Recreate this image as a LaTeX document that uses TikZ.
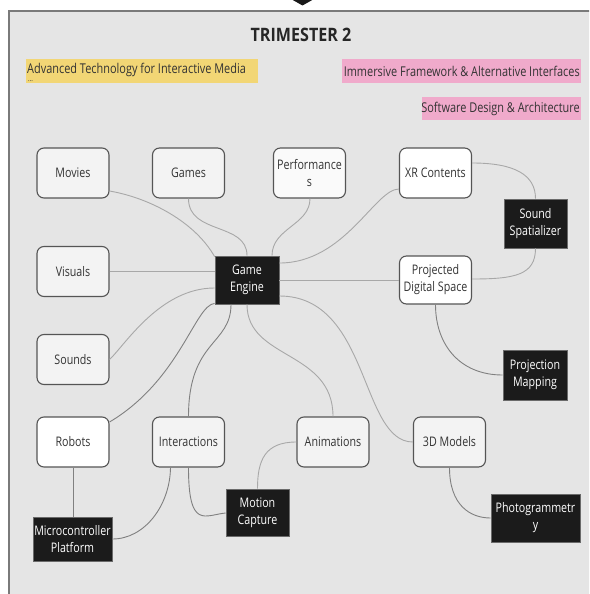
\documentclass[tikz,border=0pt]{standalone}
\usepackage{fontspec}
\setmainfont{Open Sans}[FakeStretch=0.81]
\newfontfamily\titlefont{Open Sans}[FakeStretch=0.87]
\usetikzlibrary{calc}
\definecolor{framebg}{HTML}{E5E5E5}
\definecolor{framec}{HTML}{7A7A7A}
\definecolor{boxline}{HTML}{555555}
\definecolor{wfill}{HTML}{F3F3F3}
\definecolor{bfill}{HTML}{1B1B1B}
\definecolor{bline}{HTML}{6A6A6A}
\definecolor{connc}{HTML}{A8A8A8}
\definecolor{connd}{HTML}{808080}
\definecolor{txt}{HTML}{333333}
\definecolor{yel}{HTML}{F2D675}
\definecolor{pnk}{HTML}{F0AACB}
\begin{document}
\begin{tikzpicture}[x=1pt,y=-1pt,
  wbox/.style={draw=boxline, line width=1.1pt, rounded corners=7pt, fill=wfill,
    minimum width=72pt, minimum height=50pt, inner sep=0pt, align=center,
    font=\fontsize{13.2}{17}\selectfont, text=txt},
  bbox/.style={draw=bline, line width=0.8pt, fill=bfill, inner sep=0pt, align=center,
    font=\fontsize{13.2}{17}\selectfont, text=white},
  conn/.style={draw=connc, line width=0.9pt},
  connk/.style={draw=connd, line width=0.9pt},
  lbl/.style={inner sep=0pt, font=\fontsize{13.5}{16}\selectfont, text=txt}
]
\useasboundingbox (0,0) rectangle (589,594);
\clip (0,0) rectangle (589,594);
\fill[white] (0,0) rectangle (589,594);
\fill[black!90] (291,-1) -- (314,-1) -- (302.5,5.5) -- cycle;
\draw[draw=framec, line width=1.5pt, fill=framebg] (9,11) rectangle (620,620);

\node[font=\titlefont\bfseries\fontsize{18.5}{20}\selectfont, text=black!85] (title) at (301,35) {TRIMESTER 2};

\fill[yel] (26,59) rectangle (258,83);
\node[lbl, anchor=west] (atim) at (27,69.5) {Advanced Technology for Interactive Media};
\node[inner sep=0pt, anchor=west, font=\fontsize{7.5}{7.5}\selectfont, text=txt] (dots) at (28,81.5) {...};
\fill[pnk] (342,59) rectangle (581,83);
\node[lbl, anchor=east] (ifai) at (580,71) {Immersive Framework \& Alternative Interfaces};
\fill[pnk] (422,97) rectangle (581,120);
\node[lbl, anchor=east] (sda) at (580,108.5) {Software Design \& Architecture};

% white nodes
\node[wbox] (movies) at (73,173) {Movies};
\node[wbox] (games) at (188.5,173) {Games};
\node[wbox, fill=white!60!wfill] (perf) at (309.5,173) {Performance\\s};
\node[wbox, fill=white] (xr) at (435.5,173) {XR Contents};
\node[wbox] (visuals) at (73,271.5) {Visuals};
\node[wbox, fill=white, minimum height=48pt] (pds) at (435.5,280) {Projected\\Digital Space};
\node[wbox] (sounds) at (73,359.5) {Sounds};
\node[wbox, fill=white] (robots) at (73,442) {Robots};
\node[wbox] (inter) at (188.5,442) {Interactions};
\node[wbox] (anim) at (333,442) {Animations};
\node[wbox] (models) at (449.5,442) {3D Models};

% black nodes
\node[bbox, minimum width=64pt, minimum height=48pt] (ge) at (247,280) {Game\\Engine};
\node[bbox, minimum width=63pt, minimum height=49pt] (ss) at (535.5,223.5) {Sound\\Spatializer};
\node[bbox, minimum width=64pt, minimum height=50pt] (pm) at (535,375) {Projection\\Mapping};
\node[bbox, minimum width=63pt, minimum height=47pt] (mc) at (257.5,512.5) {Motion\\Capture};
\node[bbox, minimum width=79pt, minimum height=44pt] (micro) at (72.5,539) {Microcontroller\\Platform};
\node[bbox, minimum width=89pt, minimum height=48pt] (photo) at (535.5,518) {Photogrammetr\\y};

% connectors
\draw[conn] ($(movies.east)+(0,18)$) .. controls (150,198) and (195,222) .. ($(ge.north west)+(0,1)$);
\draw[conn] (games.south) .. controls (188.5,235) and (247,222) .. (ge.north);
\draw[conn] ($(perf.south)+(0.5,0)$) .. controls (310,225) and (272,228) .. ($(ge.north)+(25,0)$);
\draw[conn] ($(xr.west)+(0,16)$) .. controls (375,189) and (345,263) .. ($(ge.east)+(0,-17)$);
\draw[conn] (visuals.east) -- (visuals.east -| ge.west);
\draw[conn] (ge.east) -- (pds.west);
\draw[conn] ($(xr.east)+(0,-10)$) .. controls (515,163) and (535.5,175) .. (ss.north);
\draw[conn] (ss.south) .. controls (535.5,275) and (515,279) .. ($(pds.east)+(0,-1)$);
\draw[connk] (pds.south) .. controls (435.5,345) and (460,375) .. (pm.west);
\draw[conn] ($(ge.east)+(0,16)$) .. controls (370,296) and (360,442) .. (models.west);
\draw[conn] (ge.south) .. controls (247,360) and (333,350) .. (anim.north);
\draw[connk] ($(ge.south)+(-16,0)$) .. controls (231,345) and (188.5,340) .. (inter.north);
\draw[connk] ($(ge.south west)+(0,-1)$) .. controls (195,305) and (180,380) .. ($(robots.east)+(0,-20)$);
\draw[conn] ($(ge.west)+(0,8)$) .. controls (160,288) and (125,345) .. (sounds.east);
\draw[connk] (robots.south) -- (robots.south |- micro.north);
\draw[connk] ($(inter.south)+(-18,0)$) .. controls (170,505) and (145,539) .. (micro.east);
\draw[connk] (inter.south) .. controls (188.5,530) and (205,515) .. ($(mc.west)+(0,0.5)$);
\draw[conn] (anim.west) .. controls (265,442) and (257.5,460) .. (mc.north);
\draw[connk] (models.south) .. controls (449.5,505) and (470,518) .. (photo.west);
\end{tikzpicture}
\end{document}
